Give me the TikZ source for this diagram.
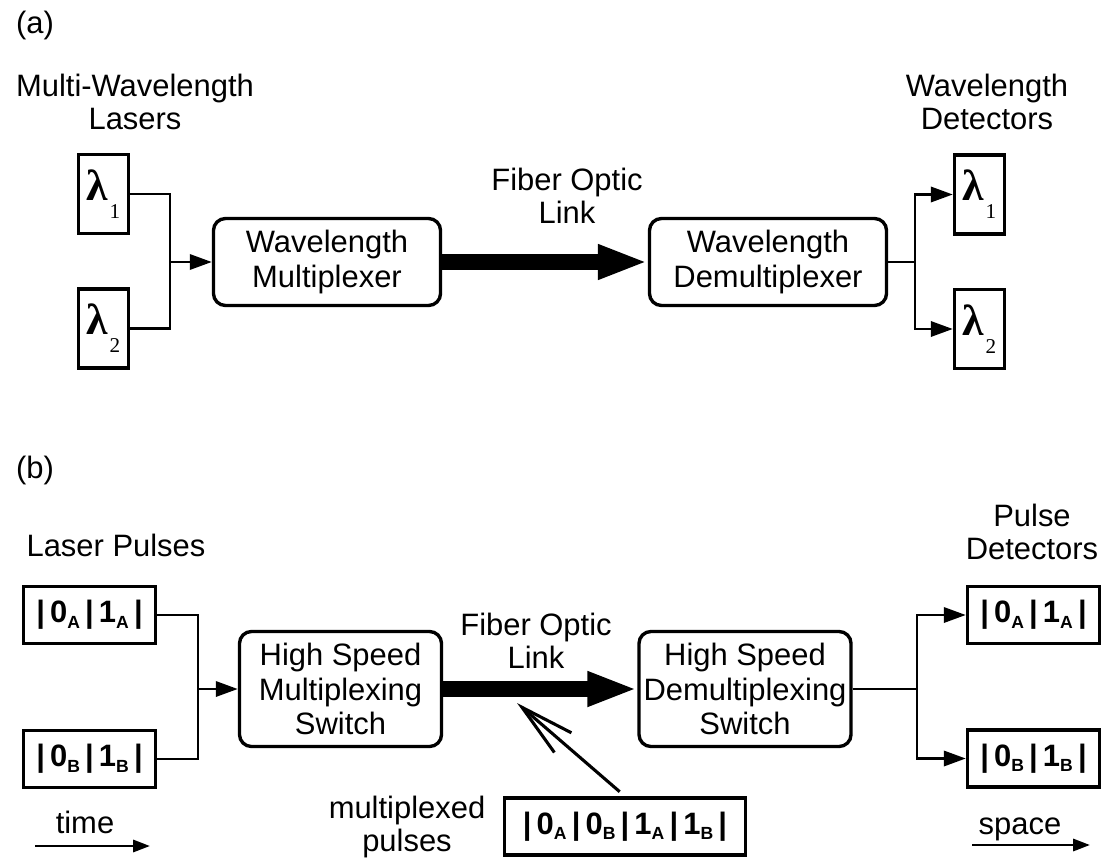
\documentclass[tikz,border=0pt]{standalone}
\usepackage[no-math]{fontspec}
\setmainfont{Liberation Sans}
\newfontfamily\greekfont{Liberation Serif}
\usetikzlibrary{arrows.meta}
\usetikzlibrary{calc}

% one time slot of a pulse train: digit with a lowered letter, closed by a bar
\newcommand{\pcell}[2]{\,#1\raisebox{-4pt}{\fontsize{12.5}{12}\selectfont #2}\,|}
% bold lambda with a low index
\newcommand{\wl}[1]{{\greekfont\fontsize{31}{31}\selectfont\bfseries λ}\kern1pt\raisebox{-13pt}{\greekfont\fontsize{15}{15}\selectfont #1}}

\begin{document}
\begin{tikzpicture}[x=0.025cm, y=-0.025cm, font=\fontsize{22}{23.5}\selectfont,
  every node/.append style={align=center},
  lambdabox/.style={draw, line width=2.4pt, minimum width=1.25cm, minimum height=1.975cm, inner sep=0pt},
  pulsebox/.style={draw, line width=2.4pt, minimum width=3.3cm, minimum height=1.425cm, inner sep=0pt,
                   font=\fontsize{22}{23.5}\selectfont\bfseries},
  unitbox/.style={draw, line width=2.4pt, rounded corners=0.3cm, inner sep=0pt,
                  font=\fontsize{22}{24.5}\selectfont},
  wire/.style={line width=2pt},
  feed/.style={wire, -{Triangle[length=0.55cm,width=0.38cm]}},
  axisarrow/.style={wire, -{Triangle[length=0.42cm,width=0.3cm]}},
  fiber/.style={line width=10.7pt, -{Triangle[length=1.25cm,width=0.8cm]}}
]
\useasboundingbox (0,0) rectangle (1108,859);

% (a) wavelength multiplexing
\node (tagA) at (35,25) {(a)};
\node (lasers) at (135,102) {Multi-Wavelength\\Lasers};
\node[lambdabox] (lin1) at (103.5,194) {\wl{1}};
\node[lambdabox] (lin2) at (103.5,328.5) {\wl{2}};
\coordinate (ja) at (170,262);
\node[unitbox, minimum width=5.675cm, minimum height=2.175cm] (muxA) at (327,262) {Wavelength\\Multiplexer};
\node[unitbox, minimum width=5.925cm, minimum height=2.175cm] (demuxA) at (768,262) {Wavelength\\Demultiplexer};
\node (linkA) at (567,196) {Fiber Optic\\Link};
\coordinate (jb) at (915,262);
\node[lambdabox] (lout1) at (979.5,194.5) {\wl{1}};
\node[lambdabox] (lout2) at (979.5,329) {\wl{2}};
\node (detectorsA) at (987,102) {Wavelength\\Detectors};

\draw[wire] (lin1.east) -| (ja);
\draw[wire] (lin2.east) -| (ja);
\draw[feed] (ja) -- (muxA.west);
\draw[fiber] (muxA.east) -- (demuxA.west);
\draw[wire] (demuxA.east) -- (jb);
\draw[feed] (jb) |- (lout1.west);
\draw[feed] (jb) |- (lout2.west);

% (b) time multiplexing
\node (tagB) at (35,470) {(b)};
\node (pulsesIn) at (116,545) {Laser Pulses};
\node[pulsebox] (pinA) at (89.5,615) {|\pcell{0}{A}\pcell{1}{A}};
\node[pulsebox] (pinB) at (89.5,759) {|\pcell{0}{B}\pcell{1}{B}};
\coordinate (jc) at (198,689);
\node[unitbox, minimum width=5.05cm, minimum height=2.875cm] (muxB) at (340.5,689) {High Speed\\Multiplexing\\Switch};
\node[unitbox, minimum width=5.3cm, minimum height=2.875cm] (demuxB) at (745,689) {High Speed\\Demultiplexing\\Switch};
\node (linkB) at (536,641) {Fiber Optic\\Link};
\coordinate (jd) at (917,689);
\node[pulsebox] (poutA) at (1033.5,615) {|\pcell{0}{A}\pcell{1}{A}};
\node[pulsebox] (poutB) at (1033.5,758.5) {|\pcell{0}{B}\pcell{1}{B}};
\node (detectorsB) at (1032,532) {Pulse\\Detectors};

\draw[wire] (pinA.east) -| (jc);
\draw[wire] (pinB.east) -| (jc);
\draw[feed] (jc) -- (muxB.west);
\draw[fiber] (muxB.east) -- (demuxB.west);
\draw[wire] (demuxB.east) -- (jd);
\draw[feed] (jd) |- (poutA.west);
\draw[feed] (jd) |- (poutB.west);

% combined train on the fiber
\node (mixLabel) at (407,827) {multiplexed\\pulses};
\node[pulsebox, minimum width=6.025cm] (mixbox) at (625,826.5) {|\pcell{0}{A}\pcell{0}{B}\pcell{1}{A}\pcell{1}{B}};
\coordinate (tap) at (517,703);
\draw[line width=2.2pt, shorten <=0.175cm, -{Straight Barb[length=1.35cm,width=0.65cm]}] (mixbox.north) -- (tap);

% time and space axes
\node (timeLabel) at (85,822) {time};
\coordinate (t0) at (35,846);
\coordinate (t1) at (150,846);
\draw[axisarrow] (t0) -- (t1);
\node (spaceLabel) at (1020,829) {space};
\coordinate (s0) at (972,845);
\coordinate (s1) at (1090,845);
\draw[axisarrow] (s0) -- (s1);
\end{tikzpicture}
\end{document}
